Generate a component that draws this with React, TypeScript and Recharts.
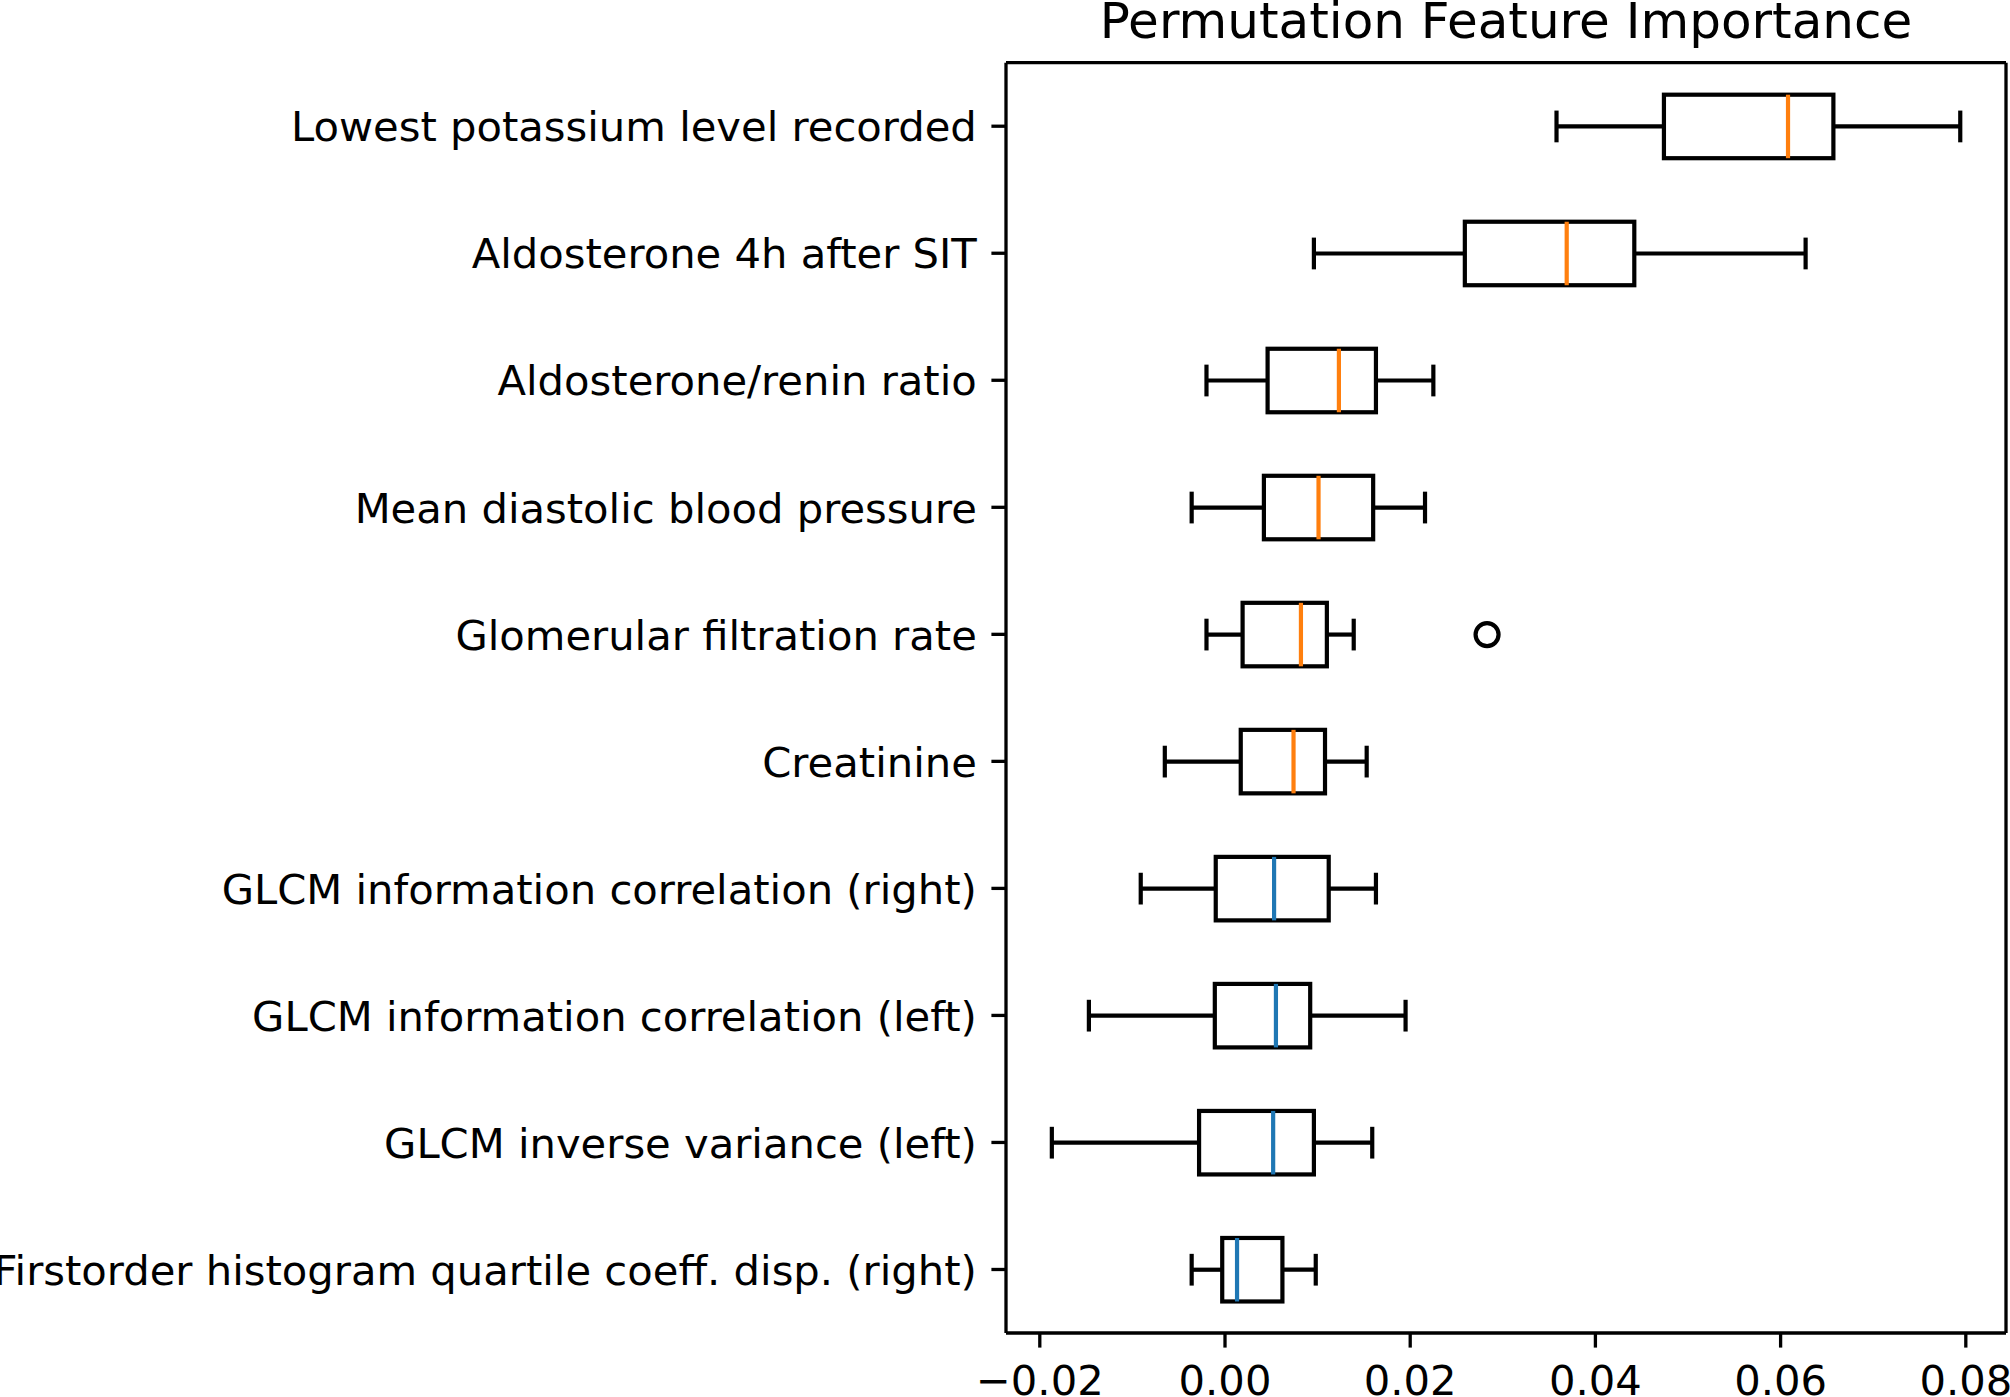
import React from "react";
import { ComposedChart, Bar, XAxis, YAxis } from "recharts";

// Permutation importance per feature.
const FEATURES = [
  "Lowest potassium level recorded",
  "Aldosterone 4h after SIT",
  "Aldosterone/renin ratio",
  "Mean diastolic blood pressure",
  "Glomerular filtration rate",
  "Creatinine",
  "GLCM information correlation (right)",
  "GLCM information correlation (left)",
  "GLCM inverse variance (left)",
  "Firstorder histogram quartile coeff. disp. (right)",
];
const FEATURE_GROUP = [
  "clinical",
  "clinical",
  "clinical",
  "clinical",
  "clinical",
  "clinical",
  "radiomic",
  "radiomic",
  "radiomic",
  "radiomic",
];
const WHISKER_LOW = [0.0358, 0.0096, -0.002, -0.0036, -0.002, -0.0065, -0.0091, -0.0147, -0.0187, -0.0036];
const Q1 = [0.0474, 0.0259, 0.0046, 0.0042, 0.0019, 0.0017, -0.001, -0.0011, -0.0028, -0.0003];
const MEDIAN = [0.0608, 0.0369, 0.0123, 0.0101, 0.0082, 0.0074, 0.0053, 0.0055, 0.0052, 0.0013];
const Q3 = [0.0657, 0.0442, 0.0163, 0.016, 0.011, 0.0108, 0.0112, 0.0092, 0.0096, 0.0062];
const WHISKER_HIGH = [0.0794, 0.0627, 0.0225, 0.0216, 0.0139, 0.0153, 0.0163, 0.0195, 0.0159, 0.0098];
const OUTLIERS: number[][] = [[], [], [], [], [0.0283], [], [], [], [], []];

const X_TICKS = [-0.02, 0, 0.02, 0.04, 0.06, 0.08];
const X_DOMAIN: [number, number] = [-0.02365, 0.08434];

const GROUP_COLOR: Record<string, string> = {
  clinical: "#ff7f0e",
  radiomic: "#1f77b4",
};

const FONT = "'DejaVu Sans', sans-serif";
const TICK_FONT = 41.7;
const LW = 4.2;
const AXIS_LW = 3.3;

const data = FEATURES.map((name, i) => ({
  name,
  range: [WHISKER_LOW[i], WHISKER_HIGH[i]],
  lo: WHISKER_LOW[i],
  q1: Q1[i],
  median: MEDIAN[i],
  q3: Q3[i],
  hi: WHISKER_HIGH[i],
  outliers: OUTLIERS[i],
  group: FEATURE_GROUP[i],
}));

function fmtTick(v: number) {
  return (v < 0 ? "\u2212" : "") + Math.abs(v).toFixed(2);
}

function ValueTick({ x, y, payload }: any) {
  return (
    <text x={x} y={y} dy="0.729em" textAnchor="middle" fontSize={TICK_FONT} fontFamily={FONT} fill="#000">
      {fmtTick(payload.value)}
    </text>
  );
}

function CategoryTick({ x, y, payload }: any) {
  return (
    <text x={x} y={y} dy="0.3645em" textAnchor="end" fontSize={TICK_FONT} fontFamily={FONT} fill="#000">
      {payload.value}
    </text>
  );
}

// The bar spans the whiskers; the rest of the box is placed along the same linear scale.
function BoxShape(props: any) {
  const { x, y, width, height, payload } = props;
  if (x == null || y == null || !payload) return null;
  const { lo, hi, q1, median, q3, outliers, group } = payload;
  const px = (v: number) => x + ((v - lo) / (hi - lo)) * width;
  const cy = y + height / 2;
  const cap = height / 4;
  return (
    <g>
      <line x1={px(lo)} x2={px(q1)} y1={cy} y2={cy} stroke="#000" strokeWidth={LW} />
      <line x1={px(q3)} x2={px(hi)} y1={cy} y2={cy} stroke="#000" strokeWidth={LW} />
      <line x1={px(lo)} x2={px(lo)} y1={cy - cap} y2={cy + cap} stroke="#000" strokeWidth={LW} />
      <line x1={px(hi)} x2={px(hi)} y1={cy - cap} y2={cy + cap} stroke="#000" strokeWidth={LW} />
      <rect
        x={px(q1)}
        y={y}
        width={px(q3) - px(q1)}
        height={height}
        fill="none"
        stroke="#000"
        strokeWidth={LW}
      />
      <line
        x1={px(median)}
        x2={px(median)}
        y1={y}
        y2={y + height}
        stroke={GROUP_COLOR[group]}
        strokeWidth={LW}
      />
      {outliers.map((o: number, k: number) => (
        <circle key={k} cx={px(o)} cy={cy} r={11.5} fill="none" stroke="#000" strokeWidth={LW} />
      ))}
    </g>
  );
}

export default function App() {
  const axisLine = { stroke: "#000", strokeWidth: AXIS_LW };
  return (
    <div
      style={{
        position: "absolute",
        left: 0,
        top: 0,
        width: 2010,
        height: 1397,
        background: "#fff",
        fontFamily: FONT,
      }}
    >
      <div
        style={{
          position: "absolute",
          left: 1006,
          width: 1000,
          top: 0,
          fontSize: 50,
          lineHeight: "43px",
          textAlign: "center",
          color: "#000",
          whiteSpace: "nowrap",
        }}
      >
        Permutation Feature Importance
      </div>
      <ComposedChart
        width={2010}
        height={1397}
        data={data}
        layout="vertical"
        margin={{ top: 61.7, right: 3, bottom: 0, left: 0 }}
      >
        <XAxis
          type="number"
          domain={X_DOMAIN}
          ticks={X_TICKS}
          allowDataOverflow
          interval={0}
          height={64}
          tickSize={14.6}
          tickMargin={17.4}
          tick={<ValueTick />}
          axisLine={axisLine}
          tickLine={axisLine}
        />
        <XAxis
          xAxisId="top"
          orientation="top"
          type="number"
          domain={X_DOMAIN}
          allowDataOverflow
          height={1}
          tick={false}
          tickLine={false}
          axisLine={axisLine}
        />
        <YAxis
          type="category"
          dataKey="name"
          width={1006}
          interval={0}
          tickSize={14.6}
          tickMargin={14.6}
          tick={<CategoryTick />}
          axisLine={axisLine}
          tickLine={axisLine}
        />
        <YAxis
          yAxisId="right"
          orientation="right"
          type="number"
          domain={[0, 1]}
          width={1}
          tick={false}
          tickLine={false}
          axisLine={axisLine}
        />
        <Bar dataKey="range" barSize={63.5} shape={<BoxShape />} isAnimationActive={false} />
      </ComposedChart>
    </div>
  );
}
